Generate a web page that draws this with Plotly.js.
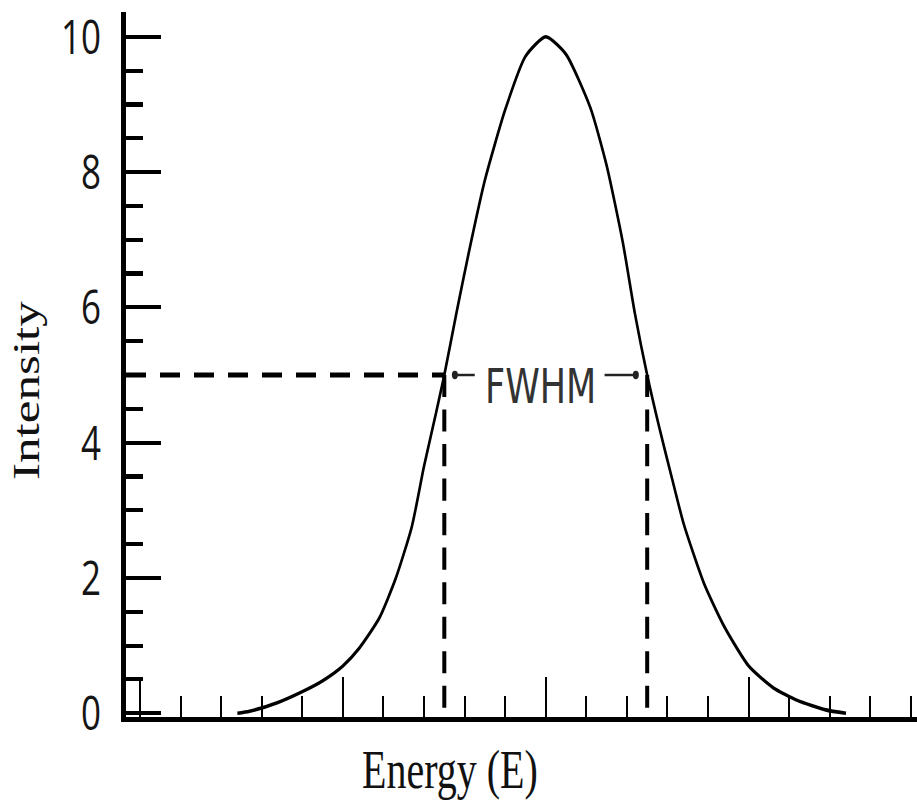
<!DOCTYPE html>
<html>
<head>
<meta charset="utf-8">
<script src="https://cdn.plot.ly/plotly-3.0.1.min.js"></script>
<style>
html,body{margin:0;padding:0;background:#fff;overflow:hidden;width:917px;height:805px}
#wrap{width:917px;height:805px;overflow:hidden}
#chart{width:917px;height:583px;transform:scaleY(1.3808);transform-origin:0 0}
</style>
</head>
<body>
<div id="wrap"><div id="chart"></div></div>
<script>
// Curve
const energy = [2.4, 2.7, 3.4, 4.0, 4.5, 5.0, 5.4, 5.9, 6.3, 6.7, 7.0, 7.3, 7.5, 7.8, 8.1, 8.5, 9.0, 9.5, 10.0,
                10.5, 11.1, 11.5, 11.9, 12.2, 12.5, 12.8, 13.1, 13.4, 13.9, 14.4, 15.0, 15.6, 16.2, 16.9, 17.4];
const intensity = [0, 0.03, 0.16, 0.32, 0.48, 0.7, 0.96, 1.41, 1.99, 2.76, 3.65, 4.45, 5.0, 5.92, 6.8, 7.88, 8.92, 9.71, 10,
                   9.74, 8.95, 8.1, 6.96, 5.9, 5.0, 4.22, 3.5, 2.8, 1.92, 1.28, 0.7, 0.38, 0.19, 0.05, 0];

// FWHM markers
const halfMax = 5;
const fwhmLeft = 7.5;
const fwhmRight = 12.5;
const fwhmLabel = 'FWHM';

// Axes
const yTickVals = [0, 2, 4, 6, 8, 10];
const yTickText = ['0', '2', '4', '6', '8', '10'];
const xRange = [-0.345, 19.15];
const yRange = [-0.05, 10.36];
const xTitle = 'Energy (E)';
const yTitle = 'Intensity';

const fwhmMid = (fwhmLeft + fwhmRight) / 2;

const traces = [
  {
    x: energy, y: intensity, type: 'scatter', mode: 'lines',
    line: {color: '#000', width: 2.6, shape: 'spline', smoothing: 0.6},
    hoverinfo: 'skip'
  },
  {
    x: [fwhmLeft + 0.26, fwhmRight - 0.28], y: [halfMax, halfMax],
    type: 'scatter', mode: 'markers',
    marker: {color: '#222', size: 6, symbol: 'circle'},
    hoverinfo: 'skip'
  }
];

const shapes = [
  {type: 'line', xref: 'x', yref: 'y', x0: xRange[0], x1: fwhmLeft, y0: halfMax, y1: halfMax,
   line: {color: '#000', width: 3.5, dash: '20px,14px'}},
  {type: 'line', xref: 'x', yref: 'y', x0: fwhmLeft, x1: fwhmLeft, y0: halfMax, y1: 0,
   line: {color: '#000', width: 4, dash: '16px,9px'}},
  {type: 'line', xref: 'x', yref: 'y', x0: fwhmRight, x1: fwhmRight, y0: halfMax, y1: 0,
   line: {color: '#000', width: 4, dash: '16px,9px'}},
  {type: 'line', xref: 'x', yref: 'y', x0: fwhmLeft + 0.26, x1: fwhmLeft + 0.75, y0: halfMax, y1: halfMax,
   line: {color: '#222', width: 1.8}},
  {type: 'line', xref: 'x', yref: 'y', x0: fwhmRight - 1.05, x1: fwhmRight - 0.28, y0: halfMax, y1: halfMax,
   line: {color: '#222', width: 1.8}}
];

const annotations = [
  {text: fwhmLabel, xref: 'x', yref: 'y', x: fwhmMid, y: halfMax, xshift: -5, yshift: -8,
   xanchor: 'center', yanchor: 'middle', showarrow: false,
   font: {family: 'DejaVu Sans', size: 35, color: '#333'}},
  {text: xTitle, xref: 'paper', yref: 'paper', x: 0.4096, y: -0.0755,
   xanchor: 'center', yanchor: 'middle', showarrow: false,
   font: {family: 'Liberation Serif', size: 40, color: '#111'}},
  {text: yTitle, xref: 'paper', yref: 'paper', x: -0.1252, y: 0.4635, textangle: -90,
   xanchor: 'center', yanchor: 'middle', showarrow: false,
   font: {family: 'Liberation Serif', size: 37, color: '#111'}}
];

const layout = {
  width: 917, height: 583,
  margin: {l: 126, r: 0, t: 9, b: 64, pad: 0},
  paper_bgcolor: '#fff', plot_bgcolor: '#fff',
  showlegend: false,
  xaxis: {
    range: xRange, showgrid: false, zeroline: false,
    showline: true, linewidth: 4, linecolor: '#000',
    tickmode: 'linear', tick0: 0, dtick: 5,
    ticks: 'inside', ticklen: 29, tickwidth: 2, tickcolor: '#000',
    showticklabels: false,
    minor: {dtick: 1, tick0: 0, ticks: 'inside', ticklen: 15, tickwidth: 2, tickcolor: '#000', showgrid: false}
  },
  yaxis: {
    range: yRange, showgrid: false, zeroline: false,
    showline: true, linewidth: 5, linecolor: '#000',
    tickmode: 'array', tickvals: yTickVals, ticktext: yTickText,
    ticks: 'inside', ticklen: 35, tickwidth: 3, tickcolor: '#000',
    ticklabelstandoff: 13,
    tickfont: {family: 'Open Sans', size: 35, color: '#151515'},
    minor: {dtick: 0.5, tick0: 0, ticks: 'inside', ticklen: 17, tickwidth: 3, tickcolor: '#000', showgrid: false}
  },
  shapes: shapes,
  annotations: annotations
};

Plotly.newPlot('chart', traces, layout, {staticPlot: true, displayModeBar: false});
</script>
</body>
</html>
